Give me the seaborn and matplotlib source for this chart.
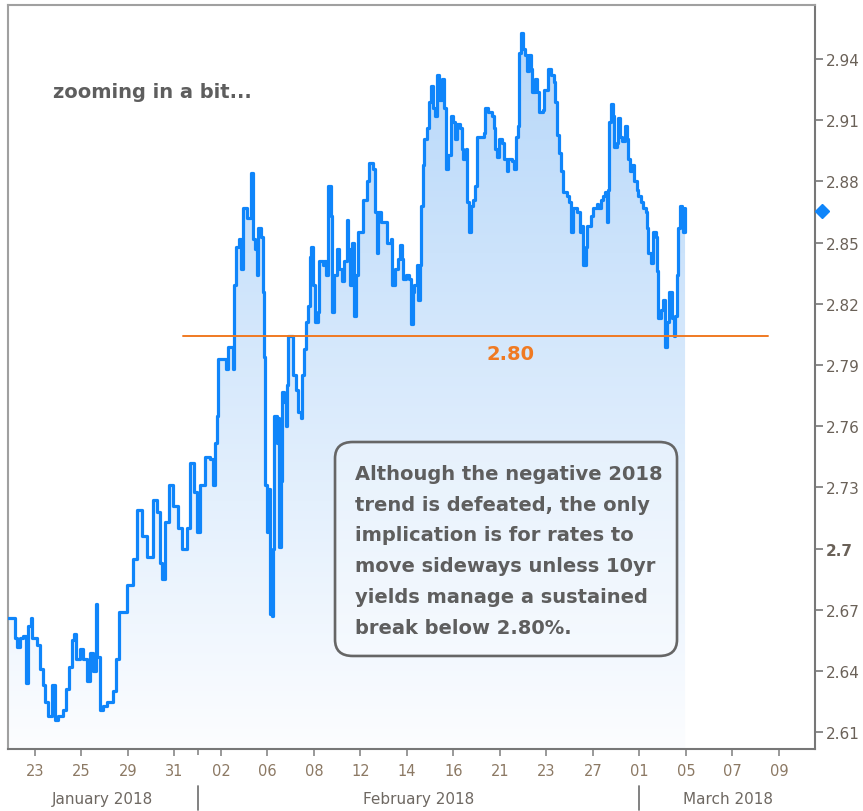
import numpy as np
import pandas as pd
import matplotlib
matplotlib.use("Agg")
import matplotlib.pyplot as plt
import seaborn as sns
from matplotlib.colors import LinearSegmentedColormap
from matplotlib.patches import FancyBboxPatch
from matplotlib.lines import Line2D
import matplotlib.transforms as mtransforms

# 10yr yield, intraday, x = trading days since Mon 22 Jan 2018
t_days = [
    -0.16, 0.14, 0.21, 0.35, 0.48, 0.61, 0.70, 0.83, 0.87, 1.07, 1.22, 1.33, 1.43, 1.56,
    1.73, 1.86, 1.99, 2.20, 2.33, 2.46, 2.59, 2.68, 2.76, 2.93, 3.06, 3.24, 3.37, 3.49,
    3.62, 3.67, 3.80, 3.92, 4.10, 4.23, 4.35, 4.48, 4.61, 4.96, 5.21, 5.39, 5.60, 5.82,
    5.99, 6.08, 6.25, 6.38, 6.46, 6.59, 6.76, 6.94, 7.15, 7.32, 7.54, 7.67, 7.84, 7.97,
    8.10, 8.31, 8.53, 8.66, 8.74, 8.83, 8.87, 9.04, 9.21, 9.30, 9.43, 9.52, 9.56, 9.65,
    9.77, 9.86, 9.95, 10.12, 10.29, 10.38, 10.46, 10.55, 10.59, 10.72, 10.81, 10.83,
    10.89, 10.98, 11.02, 11.11, 11.19, 11.24, 11.28, 11.41, 11.45, 11.49, 11.58, 11.62,
    11.71, 11.80, 11.84, 11.88, 12.05, 12.10, 12.23, 12.31, 12.44, 12.48, 12.57, 12.66,
    12.74, 12.83, 12.87, 12.96, 13.04, 13.17, 13.21, 13.39, 13.43, 13.52, 13.60, 13.73,
    13.77, 13.86, 13.99, 14.08, 14.20, 14.29, 14.42, 14.46, 14.55, 14.63, 14.72, 14.81,
    14.89, 15.11, 15.28, 15.37, 15.54, 15.62, 15.71, 15.75, 15.88, 16.10, 16.14, 16.31,
    16.35, 16.48, 16.61, 16.70, 16.78, 16.83, 16.95, 17.09, 17.17, 17.26, 17.30, 17.43,
    17.47, 17.56, 17.60, 17.69, 17.73, 17.86, 17.95, 18.03, 18.12, 18.20, 18.29, 18.38,
    18.51, 18.59, 18.68, 18.76, 18.89, 18.98, 19.06, 19.15, 19.28, 19.37, 19.41, 19.54,
    19.58, 19.67, 19.75, 19.84, 19.92, 20.01, 20.14, 20.31, 20.35, 20.48, 20.66, 20.74,
    20.78, 20.87, 20.96, 21.09, 21.17, 21.30, 21.34, 21.52, 21.60, 21.69, 21.78, 21.82,
    21.90, 21.99, 22.08, 22.16, 22.25, 22.33, 22.38, 22.51, 22.59, 22.68, 22.85, 22.89,
    23.07, 23.19, 23.32, 23.37, 23.45, 23.54, 23.62, 23.71, 23.88, 23.97, 24.05, 24.14,
    24.31, 24.44, 24.53, 24.57, 24.70, 24.74, 24.91, 25.00, 25.17, 25.22, 25.34, 25.43,
    25.52, 25.60, 25.65, 25.69, 25.77, 25.86, 25.90, 26.03, 26.08, 26.16, 26.25, 26.38,
    26.46, 26.51, 26.59, 26.68, 26.76, 26.89, 26.94, 27.06, 27.15, 27.28, 27.32, 27.37,
    27.49, 27.58, 27.71, 27.75, 27.80, 27.92, 28.01, 28.10, 28.18, 28.27, 28.35, 28.40,
    28.48, 28.53, 28.61, 28.66, 28.74, 28.83, 28.87, 28.96,
]
yield_10y = [
    2.666, 2.656, 2.652, 2.656, 2.657, 2.634, 2.662, 2.666, 2.656, 2.653, 2.641, 2.633, 2.625, 2.618,
    2.633, 2.616, 2.618, 2.621, 2.631, 2.642, 2.655, 2.658, 2.646, 2.651, 2.646, 2.635, 2.649, 2.640,
    2.673, 2.647, 2.621, 2.623, 2.625, 2.625, 2.630, 2.646, 2.669, 2.682, 2.695, 2.719, 2.706, 2.696,
    2.696, 2.724, 2.718, 2.693, 2.685, 2.713, 2.731, 2.721, 2.710, 2.700, 2.710, 2.742, 2.728, 2.708,
    2.731, 2.745, 2.744, 2.731, 2.752, 2.765, 2.793, 2.793, 2.788, 2.799, 2.799, 2.788, 2.829, 2.848,
    2.852, 2.837, 2.867, 2.862, 2.884, 2.852, 2.847, 2.834, 2.857, 2.853, 2.826, 2.794,
    2.731, 2.708, 2.729, 2.668, 2.667, 2.700, 2.765, 2.752, 2.764, 2.701, 2.733, 2.777,
    2.772, 2.760, 2.780, 2.804, 2.804, 2.785, 2.778, 2.767, 2.764, 2.785, 2.798, 2.811,
    2.819, 2.843, 2.848, 2.829, 2.811, 2.816, 2.841, 2.839, 2.841, 2.834, 2.878, 2.863,
    2.816, 2.834, 2.847, 2.837, 2.831, 2.841, 2.861, 2.847, 2.829, 2.850, 2.814, 2.834,
    2.855, 2.871, 2.880, 2.889, 2.886, 2.865, 2.845, 2.865, 2.860, 2.860, 2.850, 2.852,
    2.829, 2.837, 2.842, 2.849, 2.842, 2.832, 2.834, 2.832, 2.810, 2.826, 2.829, 2.839,
    2.822, 2.839, 2.868, 2.888, 2.901, 2.906, 2.919, 2.927, 2.916, 2.912, 2.932, 2.920,
    2.930, 2.916, 2.886, 2.893, 2.912, 2.909, 2.901, 2.908, 2.906, 2.896, 2.891, 2.896,
    2.870, 2.855, 2.868, 2.871, 2.878, 2.902, 2.902, 2.904, 2.916, 2.914, 2.912, 2.906,
    2.896, 2.892, 2.901, 2.899, 2.891, 2.885, 2.891, 2.890, 2.886, 2.902, 2.907, 2.943,
    2.953, 2.945, 2.942, 2.934, 2.942, 2.935, 2.924, 2.930, 2.924, 2.914, 2.915, 2.925,
    2.935, 2.932, 2.929, 2.919, 2.903, 2.894, 2.885, 2.875, 2.873, 2.870, 2.855, 2.867,
    2.865, 2.855, 2.858, 2.839, 2.848, 2.858, 2.863, 2.867, 2.869, 2.867, 2.871, 2.873,
    2.875, 2.860, 2.876, 2.909, 2.918, 2.912, 2.897, 2.899, 2.911, 2.902, 2.900, 2.907,
    2.901, 2.891, 2.885, 2.888, 2.880, 2.876, 2.873, 2.870, 2.867, 2.865, 2.857, 2.845,
    2.840, 2.855, 2.853, 2.836, 2.813, 2.817, 2.822, 2.799, 2.811, 2.826, 2.826, 2.813,
    2.804, 2.814, 2.834, 2.857, 2.868, 2.867, 2.855, 2.867,
]

day_ticks = [1, 3, 5, 7, 9, 11, 13, 15, 17, 19, 21, 23, 25, 27, 29, 31, 33]
day_labels = ["23", "25", "29", "31", "02", "06", "08", "12", "14", "16",
              "21", "23", "27", "01", "05", "07", "09"]
month_names = ["January 2018", "February 2018", "March 2018"]
month_mid = [3.9, 17.5, 30.8]
month_breaks = [8, 27]

yield_ticks = [2.61, 2.64, 2.67, 2.70, 2.73, 2.76, 2.79, 2.82, 2.85, 2.88, 2.91, 2.94]
support_level = 2.804
last_yield = 2.8655

df = pd.DataFrame({"day": t_days, "yld": yield_10y})

sns.set_theme(style="white")
plt.rcParams["font.family"] = ["DejaVu Sans"]

LINE = "#0f85fa"
ORANGE = "#f07a22"
GREY_TXT = "#5e5e5e"

fig = plt.figure(figsize=(8.63, 8.12), dpi=100)
ax = fig.add_axes([0.0093, 0.0764, 0.9351, 0.9162])

xmin, xmax = -0.16, 34.55
ymin, ymax = 2.6018, 2.9665

# gradient fill under the curve (stepped like the line)
poly = ax.fill_between(df["day"], df["yld"], ymin, step="post", color="none", lw=0)
cmap = LinearSegmentedColormap.from_list("fade", ["#fcfdff", "#b4d6f9"])
grad = np.linspace(0, 1, 256).reshape(-1, 1)
img = ax.imshow(grad, extent=[xmin, xmax, ymin, ymax], origin="lower",
                aspect="auto", cmap=cmap, zorder=1)
img.set_clip_path(poly.get_paths()[0], ax.transData)

sns.lineplot(data=df, x="day", y="yld", ax=ax, color=LINE, linewidth=2.3,
             sort=False, estimator=None, drawstyle="steps-post", zorder=3)

# support line
ax.plot([7.37, 32.53], [support_level, support_level], color=ORANGE, lw=1.4, zorder=4)
ax.text(21.44, 2.7955, "2.80", color=ORANGE, fontsize=14, fontweight="bold",
        ha="center", va="center", zorder=5)

ax.set_xlim(xmin, xmax)
ax.set_ylim(ymin, ymax)
ax.set_xlabel("")
ax.set_ylabel("")

# axes styling
for side in ["left", "top"]:
    ax.spines[side].set_color("#a0a0a0")
    ax.spines[side].set_linewidth(1.5)
for side in ["right", "bottom"]:
    ax.spines[side].set_color("#777777")
    ax.spines[side].set_linewidth(1.5)

ax.yaxis.tick_right()
ax.set_yticks(yield_ticks)
ylabs = [f"{v:.2f}" if abs(v - 2.70) > 1e-6 else "2.7" for v in yield_ticks]
ax.set_yticklabels(ylabs)
for lab in ax.get_yticklabels():
    if lab.get_text() == "2.7":
        lab.set_fontweight("bold")
ax.tick_params(axis="y", which="major", right=True, left=False, direction="out",
               length=6, width=1.2, color="#777777", labelsize=11,
               labelcolor="#6a6158", pad=2)

ax.set_xticks(day_ticks)
ax.set_xticklabels(day_labels)
ax.set_xticks(month_breaks, minor=True)
ax.tick_params(axis="x", which="major", bottom=True, direction="out", length=5,
               width=1.2, color="#888888", labelsize=10.5, labelcolor="#8c7964", pad=5)
ax.tick_params(axis="x", which="minor", bottom=True, direction="out", length=4,
               width=1.2, color="#888888")

# month row under the day labels
trans = mtransforms.blended_transform_factory(ax.transData, ax.transAxes)
for name, mid in zip(month_names, month_mid):
    ax.text(mid, -0.0665, name, transform=trans, ha="center", va="center",
            fontsize=11, color="#6e6862")
for b in month_breaks:
    ax.add_line(Line2D([b, b], [-0.0497, -0.0815], transform=trans, color="#777777",
                       lw=1.3, clip_on=False))

# last-value marker on the right axis
ax.plot([34.85], [last_yield], marker="D", markersize=7, color=LINE, clip_on=False,
        zorder=6)

# annotations
ax.text(0.0558, 0.884, "zooming in a bit...", transform=ax.transAxes, fontsize=14,
        fontweight="bold", color=GREY_TXT, ha="left", va="center")

box = FancyBboxPatch((0.4052, 0.125), 0.4238, 0.2876, transform=ax.transAxes,
                     boxstyle="round,pad=0,rounding_size=0.022",
                     facecolor=(1, 1, 1, 0.25), edgecolor="#666666", lw=1.9, zorder=6)
ax.add_patch(box)
note = ("Although the negative 2018\n"
        "trend is defeated, the only\n"
        "implication is for rates to\n"
        "move sideways unless 10yr\n"
        "yields manage a sustained\n"
        "break below 2.80%.")
ax.text(0.430, 0.383, note, transform=ax.transAxes, fontsize=14, fontweight="bold",
        color=GREY_TXT, ha="left", va="top", linespacing=1.78, zorder=7)

fig.savefig("out.png", dpi=100)
